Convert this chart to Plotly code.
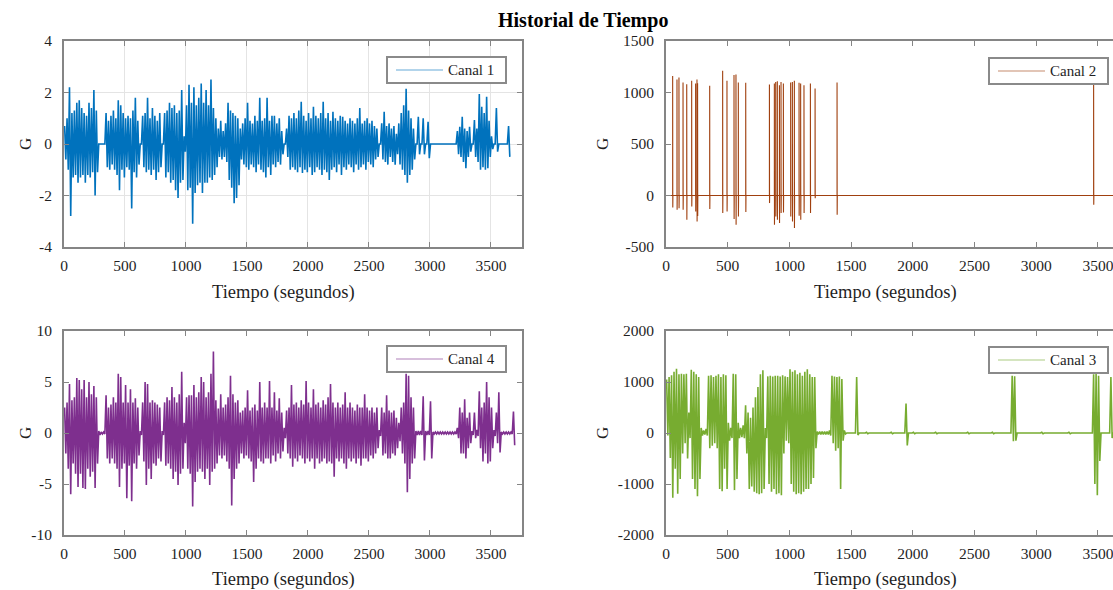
import plotly.graph_objects as go

# Registro de aceleración: envolvente (máximo / mínimo) por ventana de 20 s
PASO = 20  # segundos por ventana

canal1_max = [
    0.7, 1.0, 2.2, 1.2, 1.3, 1.6, 1.7, 1.4, 1.2, 1.1, 1.6, 1.4, 2.1, 1.3,
    0, 0, 0,
    1.2, 0.9, 1.1, 1.3, 1.0, 1.7, 1.5, 1.2, 1.0, 1.1, 1.0, 1.3, 1.8, 0.9,
    0,
    1.1, 1.2, 1.8, 1.0, 1.4, 1.1, 0.9, 1.2,
    0,
    1.2, 1.3, 1.6, 1.4, 1.5, 1.2, 1.3, 2.1,
    0.3,
    1.5, 2.3, 1.6, 2.2, 1.5, 1.8, 2.35, 1.6, 2.1, 1.5, 2.5, 1.4, 1.0,
    0.6, 0.9, 0.5, 0.8,
    1.6, 1.3, 1.2, 1.1, 1.0,
    0.6,
    0.8, 1.0, 1.6, 0.9, 0.8, 1.1, 0.9, 1.8, 0.9, 1.0, 1.8, 0.9, 1.1, 1.1, 0.8, 1.0,
    0.5, 0, 0.6,
    1.1, 1.0, 1.2, 1.0, 1.3, 1.64, 1.1, 0.9, 1.2, 1.0, 1.45, 1.1, 1.0, 1.2, 1.64,
    1.0, 1.2, 0.9, 1.25, 1.0, 0.9, 1.1, 1.06, 0.9, 0.8, 1.0, 0.9, 0.8, 1.0, 1.4,
    0.8, 0.9, 1.0, 0.8, 0.9, 0.7, 0.6,
    0,
    0.8, 1.25, 0.7, 0.8, 0.6, 0.7, 0.4, 0.8, 1.2, 1.5, 2.15, 1.3, 1.0, 0.6,
    0, 1.06, 0, 1.0, 0, 0.86,
    0, 0, 0, 0, 0, 0, 0, 0, 0, 0, 0,
    0.5, 0.67, 1.06, 0.6, 0.5, 0.67,
    0,
    0.93, 0.6, 1.94, 1.45, 1.2, 1.83, 0.9, 0.3,
    0,
    1.4,
    0, 0, 0, 0,
    0.7,
]
canal1_min = [
    -0.6, -1.0, -2.8, -1.3, -1.2, -1.5, -1.3, -1.2, -1.5, -1.2, -1.3, -1.1, -2.0, -1.1,
    0, 0, 0,
    -0.9, -1.0, -0.8, -1.0, -1.2, -1.8, -1.0, -1.3, -0.9, -1.0, -2.5, -1.1, -1.3, -0.8,
    0,
    -0.9, -1.1, -1.0, -1.2, -1.0, -1.4, -1.1, -0.9,
    0,
    -1.3, -1.1, -1.5, -1.4, -1.8, -2.1, -1.5, -1.4,
    -0.3,
    -1.8, -1.7, -3.1, -1.9, -1.6, -1.5, -1.9, -1.5, -1.5, -1.3, -1.4, -1.2, -0.9,
    -0.5, -0.6, -0.5, -0.7,
    -1.4, -1.7, -2.3, -2.1, -1.6,
    -0.6,
    -0.8, -0.9, -1.0, -0.8, -0.9, -1.1, -0.8, -1.0, -1.1, -1.3, -0.9, -1.2, -0.8, -0.9, -0.7, -0.8,
    -0.4, 0, -0.5,
    -1.0, -0.9, -1.0, -1.1, -0.9, -1.13, -1.0, -1.1, -0.9, -1.2, -1.1, -0.9, -1.0, -1.2, -1.0,
    -1.1, -1.4, -1.0, -0.9, -1.1, -0.8, -1.2, -0.9, -1.0, -0.8, -0.9, -1.1, -0.8, -1.0, -0.9,
    -0.8, -1.0, -0.7, -0.8, -0.9, -0.6, -0.5,
    0,
    -0.6, -0.7, -0.8, -0.5, -0.7, -0.8, -0.4, -0.8, -1.0, -1.2, -1.5, -1.2, -1.0, -0.6,
    0, -0.4, 0, -0.4, 0, -0.55,
    0, 0, 0, 0, 0, 0, 0, 0, 0, 0, 0,
    -0.4, -0.5, -0.7, -0.94, -0.5, -0.3,
    0,
    -0.5, -0.7, -1.0, -0.9, -1.0, -0.94, -0.5, -0.2,
    0,
    -0.3,
    0, 0, 0, 0,
    -0.5,
]

canal4_max = [
    2.5, 3.0, 4.8, 3.2, 3.5, 5.4, 5.2, 4.3, 5.2, 3.5, 5.0, 3.8, 4.6, 3.5,
    0.2, 0.1, 0.1,
    3.7, 2.5, 2.8, 3.5, 3.0, 5.8, 5.5, 3.0, 4.7, 3.0, 4.3, 3.0, 3.4, 2.5,
    0.2,
    3.0, 5.0, 4.8, 3.0, 3.2, 3.0, 2.8, 2.5,
    0.2,
    3.0, 3.5, 3.2, 4.5, 3.5, 3.0, 3.8, 6.0,
    1.0,
    3.5, 3.7, 3.7, 4.7, 3.5, 4.0, 5.5, 5.0, 3.5, 4.0, 5.8, 8.0, 3.2,
    2.4, 3.8, 2.5, 2.8,
    3.5, 5.6, 3.8, 3.0, 3.2,
    2.0,
    2.2, 2.5, 4.2, 2.2, 2.5, 2.8, 2.2, 5.0, 2.5, 3.0, 2.5, 5.1, 2.5, 4.0, 2.2, 3.4,
    2.0, 0.5, 2.2,
    2.5, 4.7, 2.8, 3.0, 2.5, 3.2, 2.8, 5.1, 3.0, 2.5, 4.3, 2.8, 3.0, 2.5, 3.2,
    2.8, 3.5, 4.8, 3.0, 2.5, 3.0, 2.5, 2.8, 4.0, 2.5, 3.0, 2.5, 2.2, 2.8, 2.5,
    2.5, 3.8, 2.5, 2.2, 2.5, 2.0, 2.5,
    0.3,
    2.5, 2.0, 3.7, 2.2, 2.0, 2.2, 1.5, 1.0, 2.5, 3.0, 5.8, 5.6, 3.5, 2.5,
    0.2, 0.2, 0.2, 3.6, 0.2, 0.2,
    3.1,
    0.1, 0.1, 0.1, 0.1, 0.1, 0.1, 0.1, 0.1, 0.1, 0.1,
    0.5, 2.5, 2.0, 3.3, 1.5, 2.0, 0.2,
    2.0, 0.3, 4.1, 2.5, 3.0, 5.0, 3.5, 2.5, 0.3, 2.0, 4.0,
    0.1, 0.1, 0.1, 0.1, 0.1,
    2.1,
]
canal4_min = [
    -2.0, -3.5, -6.0, -3.0, -4.0, -5.3, -4.0, -5.4, -5.5, -3.5, -4.3, -3.8, -5.4, -3.0,
    -0.2, -0.1, -0.1,
    -2.5, -3.0, -2.5, -3.0, -3.5, -5.3, -3.5, -3.0, -6.4, -3.2, -6.7, -3.0, -3.5, -2.2,
    -0.2,
    -2.8, -5.1, -3.5, -4.5, -3.0, -3.2, -2.5, -2.8,
    -0.2,
    -3.2, -3.0, -3.5, -4.5, -3.8, -5.1, -4.0, -3.5,
    -1.0,
    -3.5, -4.0, -7.2, -4.8, -3.8, -3.5, -3.8, -4.5, -3.5, -5.1, -3.8, -3.5, -3.0,
    -2.2, -2.5, -2.2, -2.8,
    -3.5, -7.1, -4.5, -3.5, -3.0,
    -2.0,
    -2.5, -2.2, -2.5, -2.8, -4.8, -3.5, -2.5, -2.8, -3.0, -2.5, -2.5, -3.0, -2.2, -2.8, -2.0, -2.5,
    -1.8, -0.5, -2.0,
    -2.5, -3.3, -2.5, -2.8, -2.2, -2.5, -3.0, -2.5, -2.8, -2.5, -3.5, -2.5, -3.0, -2.8, -2.5,
    -3.0, -2.8, -3.0, -4.3, -2.5, -2.8, -2.5, -3.0, -3.5, -2.5, -2.8, -2.5, -3.0, -2.5, -3.2,
    -2.5, -2.5, -2.8, -2.2, -2.5, -2.0, -1.5,
    -0.3,
    -2.2, -2.0, -2.5, -2.5, -2.0, -2.2, -1.5, -0.8, -2.0, -3.0, -5.8, -4.5, -3.0, -2.5,
    -0.2, -0.2, -0.2, -2.7, -0.2, -0.2,
    -2.5,
    -0.1, -0.1, -0.1, -0.1, -0.1, -0.1, -0.1, -0.1, -0.1, -0.1,
    -0.5, -2.0, -2.0, -2.5, -1.5, -1.0, -0.2,
    -0.5, -0.3, -1.5, -2.8, -2.0, -3.0, -2.8, -1.5, -0.3, -1.0, -1.9,
    -0.1, -0.1, -0.1, -0.1, -0.1,
    -1.2,
]

canal3_max = [
    1050, 1100, 1130, 1200, 1260, 1150, 1160, 1150, 1160, 400, 1240, 1200, 1150, 1100,
    100, 50, 80,
    1120, 1130, 1100, 1120, 1150, 1100, 1150, 1130,
    200, 100,
    1160, 1150,
    200, 100, 150,
    545, 400, 300, 500, 700, 900, 1150, 1230,
    100,
    1110, 1120, 1110, 1120, 1120, 1110, 1130, 1110, 1100,
    1250, 1200, 1230, 1150, 1180, 1120, 1200, 1250, 1150, 1100, 1100,
    30, 30, 30, 30, 30, 50,
    1120, 1110, 1100, 1110, 1060,
    50, 0, 0, 0, 0,
    1100,
    0, 0, 0, 15, 0, 0, 0, 0, 0, 0, 0, 0, 0, 15, 0, 0, 0, 0, 0,
    580,
    0, 0, 15, 0, 0, 0, 0, 0, 0, 0, 0, 15, 0, 0, 0, 0, 0, 0, 0, 0, 0,
    0, 0, 0, 15, 0, 0, 0, 0, 0, 0, 0, 0, 0, 15, 0, 0, 0, 0, 0, 0, 0,
    1120, 1110,
    0, 0, 0, 0, 0, 0, 0, 0, 0, 0, 15, 0, 0, 0, 0, 0,
    0, 0, 0, 0, 0, 15, 0, 0, 0, 0, 0, 0, 0, 0, 0,
    1150, 1160, 1120,
    0, 0, 0, 0,
    1100,
    0, 0,
]
canal3_min = [
    -50, -490, -1270, -700, -1190, -900, -400, -200, -500, -100, -900, -1100, -1240, -900,
    -50, -30, -50,
    -300, -250, -200, -300, -1100, -1140, -700, -1100,
    -150, -100,
    -1120, -900,
    -100, -80, -100,
    -400, -1100, -1050, -1150, -1180, -1200, -1180, -1100,
    -100,
    -1000, -1150, -1100, -1200, -1180, -1220, -400, -150, -200,
    -1000, -1150, -1200, -1180, -1200, -1150, -1100, -1100, -1000, -880, -300,
    -30, -30, -30, -30, -30, -50,
    -200, -350, -300, -1100, -150,
    -20, 0, 0, 0, 0,
    -40,
    0, 0, 0, -15, 0, 0, 0, 0, 0, 0, 0, 0, 0, -15, 0, 0, 0, 0, 0,
    -245,
    0, 0, -15, 0, 0, 0, 0, 0, 0, 0, 0, -15, 0, 0, 0, 0, 0, 0, 0, 0, 0,
    0, 0, 0, -15, 0, 0, 0, 0, 0, 0, 0, 0, 0, -15, 0, 0, 0, 0, 0, 0, 0,
    -160, -150,
    0, 0, 0, 0, 0, 0, 0, 0, 0, 0, -15, 0, 0, 0, 0, 0,
    0, 0, 0, 0, 0, -15, 0, 0, 0, 0, 0, 0, 0, 0, 0,
    -1000, -1220, -550,
    0, 0, 0, 0,
    -100,
    0, 0,
]

# Canal 2: picos aislados (instante en s, valor máximo y mínimo en G)
canal2_t = [54, 89, 105, 138, 168, 208, 240, 251, 256, 354,
            459, 494, 551, 567, 586, 646,
            838, 878, 889, 902, 919, 932, 951,
            1010, 1024, 1040, 1078, 1091, 1118, 1170, 1208,
            1386, 3465]
canal2_max = [1161, 1126, 1145, 1097, 1081, 1113, 1087, 1126, 1090, 1065,
              1210, 1113, 1171, 1174, 1097, 1094,
              1077, 1087, 1103, 1110, 1071, 1103, 1087,
              1097, 1103, 1113, 1094, 1087, 1071, 1087, 1039,
              1097, 1095]
canal2_min = [-116, -139, -123, -139, -235, -106, -155, -252, -200, -132,
              -171, -155, -229, -284, -203, -161,
              -74, -284, -203, -235, -268, -171, -164,
              -203, -252, -316, -197, -235, -171, -171, -26,
              -187, -90]
canal2_fin = 3660

W, H = 1113, 590
FUENTE = "Liberation Serif"
TEXTO = "#1f1f1f"
BORDE = "#858585"


def envolvente(maximos, minimos):
    xs, ys = [], []
    for i, (a, b) in enumerate(zip(maximos, minimos)):
        t0 = i * PASO
        xs += [t0 + 0.25 * PASO, t0 + 0.75 * PASO]
        ys += [a, b]
    return xs, ys


def picos(ts, maximos, minimos, fin):
    xs, ys = [0], [0]
    for t, a, b in zip(ts, maximos, minimos):
        xs += [t, t, t + 1, t + 2]
        ys += [0, a, b, 0]
    xs.append(fin)
    ys.append(0)
    return xs, ys


def fx(px):
    return px / W


def fy(py):
    return 1 - py / H


x1, y1 = envolvente(canal1_max, canal1_min)
x2, y2 = picos(canal2_t, canal2_max, canal2_min, canal2_fin)
x4, y4 = envolvente(canal4_max, canal4_min)
x3, y3 = envolvente(canal3_max, canal3_min)

IZQ = [fx(64), fx(522)]
DER = [fx(666), 1.0]
ARR = [fy(247), fy(41)]
ABA = [fy(535), fy(331)]

paneles = [
    dict(nombre="Canal 1", x=x1, y=y1, color="#0072BD", ancho=1.6, dx=IZQ, dy=ARR,
         rx=[0, 3755], ry=[-4, 4], ty=[-4, -2, 0, 2, 4], grid=True,
         caja=(387, 57, 506, 83), g=(25, 144), tx=(283, 292)),
    dict(nombre="Canal 2", x=x2, y=y2, color="#A0400F", ancho=1.1, dx=DER, dy=ARR,
         rx=[0, 3622], ry=[-500, 1500], ty=[-500, 0, 500, 1000, 1500], grid=False,
         caja=(989, 58, 1108, 84), g=(602, 144), tx=(885, 292)),
    dict(nombre="Canal 4", x=x4, y=y4, color="#7E2F8E", ancho=1.6, dx=IZQ, dy=ABA,
         rx=[0, 3755], ry=[-10, 10], ty=[-10, -5, 0, 5, 10], grid=False,
         caja=(387, 346, 506, 372), g=(25, 433), tx=(283, 579)),
    dict(nombre="Canal 3", x=x3, y=y3, color="#77AC30", ancho=1.6, dx=DER, dy=ABA,
         rx=[0, 3622], ry=[-2000, 2000], ty=[-2000, -1000, 0, 1000, 2000], grid=False,
         caja=(989, 347, 1108, 373), g=(602, 433), tx=(885, 579)),
]

tx_vals = [0, 500, 1000, 1500, 2000, 2500, 3000, 3500]

fig = go.Figure()
layout = dict(
    width=W, height=H,
    margin=dict(l=0, r=0, t=0, b=0, autoexpand=False),
    paper_bgcolor="white", plot_bgcolor="white",
    font=dict(family=FUENTE, size=15, color=TEXTO),
    showlegend=False,
    hovermode=False,
)
anotaciones = [
    dict(text="<b>Historial de Tiempo</b>", x=fx(583), y=fy(20), xref="paper", yref="paper",
         showarrow=False, font=dict(size=20, color="#000000"), xanchor="center", yanchor="middle"),
]
formas = []

for k, p in enumerate(paneles, start=1):
    sx = "" if k == 1 else str(k)
    fig.add_trace(go.Scatter(
        x=p["x"], y=p["y"], mode="lines", name=p["nombre"],
        line=dict(color=p["color"], width=p["ancho"], simplify=False),
        xaxis="x" + sx, yaxis="y" + sx,
    ))
    derecha = p["dx"][1] >= 1.0
    layout["xaxis" + sx] = dict(
        domain=p["dx"], range=p["rx"], anchor="y" + sx, automargin=False,
        tickvals=tx_vals, ticktext=[str(v) for v in tx_vals],
        ticks="inside", ticklen=5, tickcolor=BORDE, ticklabelstandoff=3,
        ticklabeloverflow="allow",
        showline=True, linecolor=BORDE, linewidth=2, mirror="ticks",
        showgrid=p["grid"], gridcolor="#e4e4e4", gridwidth=1, zeroline=False,
        tickfont=dict(size=15.5, color=TEXTO),
    )
    layout["yaxis" + sx] = dict(
        domain=p["dy"], range=p["ry"], anchor="x" + sx, automargin=False,
        tickvals=p["ty"], ticktext=[str(v) for v in p["ty"]],
        ticks="inside", ticklen=5, tickcolor=BORDE, ticklabelstandoff=7,
        showline=True, linecolor=BORDE, linewidth=2,
        mirror=False if derecha else "ticks",
        showgrid=p["grid"], gridcolor="#e4e4e4", gridwidth=1, zeroline=False,
        tickfont=dict(size=15.5, color=TEXTO),
    )

    # Leyenda del panel: recuadro, muestra de línea y nombre del canal
    bx0, by0, bx1, by1 = p["caja"]
    yc = (by0 + by1) / 2
    formas.append(dict(type="rect", xref="paper", yref="paper",
                       x0=fx(bx0), x1=fx(bx1), y0=fy(by1), y1=fy(by0),
                       fillcolor="white", line=dict(color="#8a8a8a", width=2), layer="above"))
    formas.append(dict(type="line", xref="paper", yref="paper",
                       x0=fx(bx0 + 9), x1=fx(bx0 + 56), y0=fy(yc), y1=fy(yc),
                       line=dict(color=p["color"], width=1.2), opacity=0.6, layer="above"))
    anotaciones.append(dict(text=p["nombre"], x=fx(bx0 + 59), y=fy(yc), xref="paper",
                            yref="paper", showarrow=False, font=dict(size=15),
                            xanchor="left", yanchor="middle"))

    gx, gy = p["g"]
    anotaciones.append(dict(text="G", x=fx(gx), y=fy(gy), xref="paper", yref="paper",
                            showarrow=False, textangle=-90, font=dict(size=17),
                            xanchor="center", yanchor="middle"))
    ax, ay = p["tx"]
    anotaciones.append(dict(text="Tiempo (segundos)", x=fx(ax), y=fy(ay), xref="paper",
                            yref="paper", showarrow=False, font=dict(size=18.5),
                            xanchor="center", yanchor="middle"))

layout["annotations"] = anotaciones
layout["shapes"] = formas
fig.update_layout(**layout)
fig.write_html("out.html")
